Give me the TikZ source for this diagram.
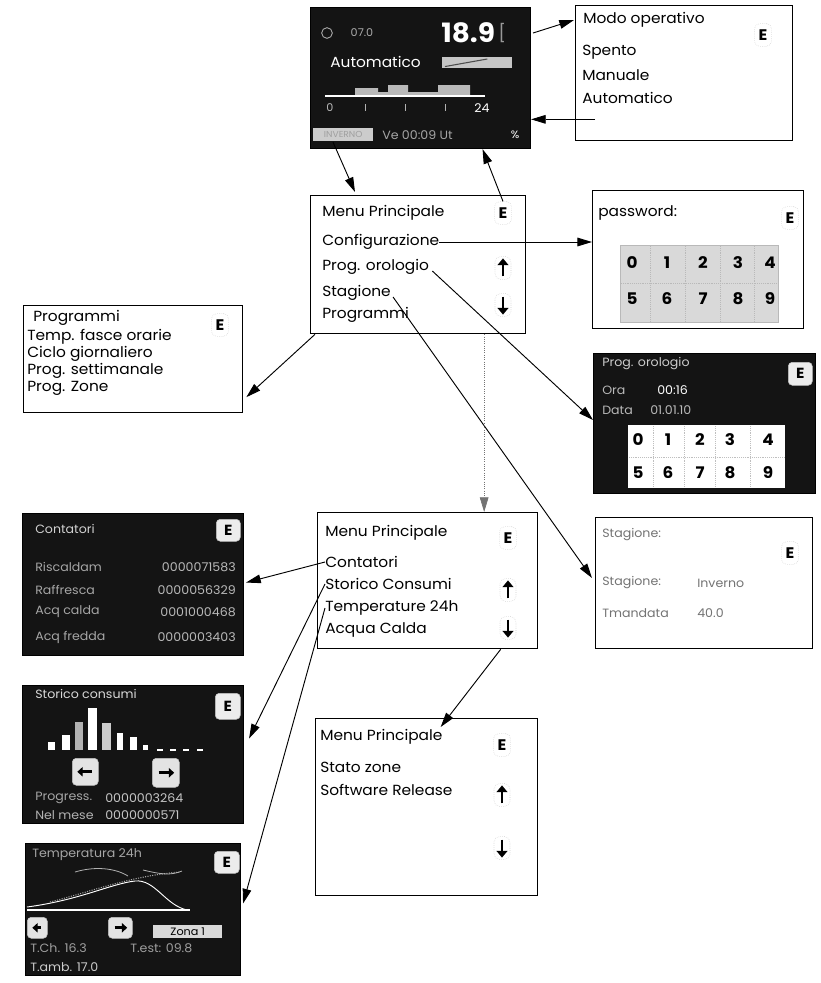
\documentclass[tikz,border=0pt]{standalone}
\usepackage{fontspec}
\setmainfont{Poppins}[FakeStretch=1.05]
\usetikzlibrary{arrows.meta,calc}
\begin{document}
\begin{tikzpicture}[x=0.75pt,y=-0.75pt,
  rect/.style 2 args={minimum width=#1*0.75pt, minimum height=#2*0.75pt},
  box/.style={draw=black, line width=1pt, fill=white, inner sep=0pt, anchor=north west},
  scr/.style={fill=black!92, draw=black, line width=0.8pt, inner sep=0pt, anchor=north west},
  txt/.style={anchor=west, inner sep=0pt, font=\fontsize{11}{12}\selectfont},
  stxt/.style={anchor=west, inner sep=0pt, font=\fontsize{9}{11}\selectfont},
  arr/.style={draw=black, line width=0.7pt, -{Triangle[length=11pt,width=6.5pt]}},
  ekey/.style={font=\fontsize{11.5}{12}\selectfont\bfseries, inner sep=0pt, draw=gray!40, densely dotted, rounded corners=4pt, minimum width=13pt, minimum height=17pt},
  ahalo/.style={inner sep=0pt, draw=gray!40, densely dotted, rounded corners=4pt, minimum width=12pt, minimum height=17pt},
  icoarr/.style={line width=2pt, -{Triangle[length=5pt,width=8pt]}, shorten <=2.5pt, shorten >=1.5pt},
  dkey/.style={fill=gray!15, draw=gray!50, rounded corners=3pt, inner sep=0pt, anchor=north west, font=\fontsize{11}{12}\selectfont\bfseries, text=black},
  dbtn/.style={fill=gray!22, draw=gray!50, rounded corners=3pt, inner sep=0pt, anchor=north west},
  btnarr/.style={line width=2.2pt, -{Triangle[length=4pt,width=7pt]}, shorten <=5pt, shorten >=4pt},
  digit/.style={font=\fontsize{12}{13}\selectfont\bfseries, inner sep=0pt}
]
\path[use as bounding box] (0,0) rectangle (821,983);

% ---------------- top display ----------------
\node[scr, rect={220}{141}] (disp) at (310,7) {};
\node[circle, draw=gray!55, line width=0.6pt, minimum size=8pt, inner sep=0pt] (dicon) at (327,33) {};
\node[font=\fontsize{8}{9}\selectfont, text=gray!65, inner sep=0pt] (dset) at (362,33) {07.0};
\node[font=\fontsize{20}{22}\selectfont\bfseries, text=white, anchor=west, inner sep=0pt] (dtemp) at (441,33) {18.9};
\node[text=gray!80, font=\fontsize{13}{14}\selectfont, anchor=west, inner sep=0pt] (dunit) at (dtemp.east) {\,[};
\node[txt, text=white] (dmode) at (330,62) {Automatico};
\node[fill=gray!45, rect={70}{11}, anchor=north west, inner sep=0pt] (dbar) at (442,57) {};
\draw[black!70, line width=0.8pt] ($(dbar.south west)+(3,-2)$) -- ($(dbar.north)+(10,2)$);
\fill[gray!55] (355,96) -- (355,88) -- (378,88) -- (378,92) -- (388,92) -- (388,85) -- (408,85) -- (408,92) -- (438,92) -- (438,85) -- (470,85) -- (470,96) -- cycle;
\draw[white, line width=0.8pt] (325,96) -- (485,96);
\node[font=\fontsize{8}{9}\selectfont, text=gray!55, inner sep=0pt] (dzero) at (330,108) {0};
\foreach \tx in {365,405,445} \draw[gray!60, line width=0.6pt] (\tx,104) -- (\tx,111);
\node[font=\fontsize{9}{10}\selectfont, text=white, inner sep=0pt] (d24) at (482,108) {24};
\node[fill=gray!40, rect={60}{13}, anchor=north west, inner sep=0pt] (dseason) at (313,128) {};
\node[text=gray!75, font=\fontsize{6.5}{7}\selectfont, inner sep=0pt] (dseasont) at (dseason) {INVERNO};
\node[stxt, text=gray!70] (ddate) at (382,135) {Ve 00:09 Ut};
\node[text=white, font=\fontsize{8}{9}\selectfont, inner sep=0pt] (dsym) at (515,135) {\%};

% ---------------- Modo operativo ----------------
\node[box, rect={217}{135}] (modo) at (575,5) {};
\node[txt] (modo0) at (583,20) {Modo operativo};
\node[txt] (modo1) at (582,52) {Spento};
\node[txt] (modo2) at (582,75) {Manuale};
\node[txt] (modo3) at (582,98) {Automatico};
\node[ekey] (modoE) at (763,35) {E};

% ---------------- Menu Principale 1 ----------------
\node[box, rect={215}{138}] (m1) at (310,195) {};
\node[txt] (m1t) at (322,213) {Menu Principale};
\node[txt] (cfg) at (322,242) {Configurazione};
\node[txt] (orol) at (322,267) {Prog. orologio};
\node[txt] (stg) at (322,293) {Stagione};
\node[txt] (prg) at (322,315) {Programmi};
\node[ekey] (m1E) at (503,213) {E};
\node[ahalo] (m1up) at (503,268) {};
\node[ahalo] (m1dn) at (503,305) {};
\draw[icoarr] (m1up.south) -- (m1up.north);
\draw[icoarr] (m1dn.north) -- (m1dn.south);

% ---------------- password ----------------
\node[box, rect={211}{138}] (pw) at (592,190) {};
\node[txt] (pwt) at (598,213) {password:};
\node[ekey] (pwE) at (790,218) {E};
\node[fill=gray!30, draw=gray!55, rect={158}{77}, anchor=north west, inner sep=0pt] (pwkeys) at (620,245) {};
\foreach \gx in {650,685,720,754} \draw[gray!55, densely dotted] (\gx,246) -- (\gx,321);
\draw[gray!55, densely dotted] (621,283) -- (777,283);
\foreach \d/\gx in {0/632,1/667,2/703,3/738,4/770} \node[digit] (pk\d) at (\gx,263) {\d};
\foreach \d/\gx in {5/632,6/667,7/703,8/738,9/770} \node[digit] (pk\d) at (\gx,299) {\d};

% ---------------- Programmi ----------------
\node[box, rect={219}{107}] (prog) at (23,305) {};
\node[txt] (progt) at (33,318) {Programmi};
\node[txt] (prog1) at (27,337) {Temp. fasce orarie};
\node[txt] (prog2) at (27,354) {Ciclo giornaliero};
\node[txt] (prog3) at (27,371) {Prog. settimanale};
\node[txt] (prog4) at (27,388) {Prog. Zone};
\node[ekey] (progE) at (220,325) {E};

% ---------------- clock screen ----------------
\node[scr, rect={222}{140}] (clk) at (593,353) {};
\node[dkey, rect={24}{23}] (clkE) at (788,362) {E};
\node[stxt, text=gray!40] (clkt) at (602,364) {Prog. orologio};
\node[stxt, text=gray!55] (clko) at (602,390) {Ora};
\node[stxt, text=white] (clkov) at (657,390) {00:16};
\node[stxt, text=gray!55] (clkd) at (602,410) {Data};
\node[stxt, text=gray!55] (clkdv) at (650,410) {01.01.10};
\node[fill=white, rect={157}{63}, anchor=north west, inner sep=0pt] (clkkeys) at (628,425) {};
\foreach \gx in {653,684,715,750} \draw[gray!50, densely dotted] (\gx,426) -- (\gx,487);
\draw[gray!50, densely dotted] (629,457) -- (784,457);
\foreach \d/\gx in {0/638,1/668,2/700,3/730,4/768} \node[digit] (ck\d) at (\gx,440) {\d};
\foreach \d/\gx in {5/638,6/668,7/700,8/730,9/768} \node[digit] (ck\d) at (\gx,473) {\d};

% ---------------- Stagione ----------------
\node[box, rect={217}{131}] (stag) at (595,517) {};
\node[stxt, text=black!55] (stagt) at (602,535) {Stagione:};
\node[ekey] (stagE) at (790,553) {E};
\node[stxt, text=black!55] (stag1) at (602,583) {Stagione:};
\node[stxt, text=black!55] (stag1v) at (697,583) {Inverno};
\node[stxt, text=black!55] (stag2) at (602,613) {Tmandata};
\node[stxt, text=black!55] (stag2v) at (697,613) {40.0};

% ---------------- Menu Principale 2 ----------------
\node[box, rect={220}{136}] (m2) at (317,512) {};
\node[txt] (m2t) at (325,533) {Menu Principale};
\node[txt] (cnt) at (325,562) {Contatori};
\node[txt] (sto) at (325,584) {Storico Consumi};
\node[txt] (t24) at (325,608) {Temperature 24h};
\node[txt] (acq) at (325,630) {Acqua Calda};
\node[ekey] (m2E) at (508,538) {E};
\node[ahalo] (m2up) at (508,590) {};
\node[ahalo] (m2dn) at (508,628) {};
\draw[icoarr] (m2up.south) -- (m2up.north);
\draw[icoarr] (m2dn.north) -- (m2dn.south);

% ---------------- Menu Principale 3 ----------------
\node[box, rect={222}{177}] (m3) at (315,718) {};
\node[txt] (m3t) at (320,737) {Menu Principale};
\node[txt] (m3a) at (320,767) {Stato zone};
\node[txt] (m3b) at (320,790) {Software Release};
\node[ekey] (m3E) at (502,745) {E};
\node[ahalo] (m3up) at (502,795) {};
\node[ahalo] (m3dn) at (502,848) {};
\draw[icoarr] (m3up.south) -- (m3up.north);
\draw[icoarr] (m3dn.north) -- (m3dn.south);

% ---------------- Contatori screen ----------------
\node[scr, rect={221}{142}] (cont) at (22,513) {};
\node[dkey, rect={24}{22}] (contE) at (216,519) {E};
\node[stxt, text=gray!35] (contt) at (35,529) {Contatori};
\node[stxt, text=gray!70] (c1) at (35,567) {Riscaldam};
\node[stxt, text=gray!70] (c2) at (35,590) {Raffresca};
\node[stxt, text=gray!70] (c3) at (35,612) {Acq calda};
\node[stxt, text=gray!70] (c4) at (35,637) {Acq fredda};
\node[stxt, text=gray!55, anchor=east] (c1v) at (236,567) {0000071583};
\node[stxt, text=gray!55, anchor=east] (c2v) at (236,590) {0000056329};
\node[stxt, text=gray!55, anchor=east] (c3v) at (236,612) {0001000468};
\node[stxt, text=gray!55, anchor=east] (c4v) at (236,637) {0000003403};

% ---------------- bar chart screen ----------------
\node[scr, rect={221}{138}] (bars) at (22,685) {};
\node[dkey, rect={25}{26}] (barsE) at (215,693) {E};
\node[stxt, text=gray!30] (barst) at (35,694) {Storico consumi};
\foreach \xa/\xb/\yt/\cl in {48/55/742/white,62/70/735/white,75/83/722/gray!60,88/97/708/white,102/111/723/gray!40,117/123/733/white,130/137/737/white,143/148/745/white}
  \fill[\cl] (\xa,\yt) rectangle (\xb,750);
\foreach \xa in {157,170,183,197} \draw[white, line width=1pt] (\xa,750) -- (\xa+6,750);
\node[dbtn, rect={26}{27}] (bl) at (72,758) {};
\node[dbtn, rect={27}{29}] (br) at (152,758) {};
\draw[btnarr] (bl.east) -- (bl.west);
\draw[btnarr] (br.west) -- (br.east);
\node[stxt, text=gray!70] (bp) at (35,798) {Progress.};
\node[stxt, text=gray!45] (bpv) at (105,798) {0000003264};
\node[stxt, text=gray!60] (bm) at (35,815) {Nel mese};
\node[stxt, text=gray!45] (bmv) at (105,815) {0000000571};

% ---------------- temperature screen ----------------
\node[scr, rect={215}{132}] (temp) at (25,843) {};
\node[dkey, rect={25}{22}] (tempE) at (214,851) {E};
\node[stxt, text=gray!70] (tempt) at (32,855) {Temperatura 24h};
\draw[white, line width=0.8pt] (27,910) -- (190,910);
\draw[white, line width=0.7pt] (27,907) .. controls (80,900) and (110,884) .. (135,881) .. controls (155,879) and (165,905) .. (187,910);
\draw[gray!70, densely dotted, line width=0.8pt] (50,902) .. controls (90,892) and (130,876) .. (180,872);
\draw[gray!60, line width=0.6pt] (75,872) .. controls (95,866) and (115,868) .. (128,876);
\draw[gray!60, line width=0.6pt] (143,870) .. controls (160,874) and (170,876) .. (182,871);
\node[dbtn, rect={20}{21}] (tl) at (27,917) {};
\node[dbtn, rect={24}{21}] (tr) at (108,917) {};
\draw[btnarr] (tl.east) -- (tl.west);
\draw[btnarr] (tr.west) -- (tr.east);
\node[fill=gray!30, rect={69}{13}, anchor=north west, inner sep=0pt, font=\fontsize{8}{9}\selectfont] (zona) at (153,925) {Zona 1};
\node[stxt, text=gray!75] (tch) at (30,948) {T.Ch. 16.3};
\node[stxt, text=gray!75] (tes) at (130,948) {T.est: 09.8};
\node[stxt, text=gray!40] (tam) at (30,967) {T.amb. 17.0};

% ---------------- connectors ----------------
\draw[arr] ($(disp.north east)+(2,26)$) -- ($(modo.north west)+(-1,15)$);
\coordinate (modoin) at ($(modo.south west)+(20,-22)$);
\draw[arr] (modoin) -- (modoin -| disp.east);
\draw[arr] ($(disp.south west)+(23,-7)$) -- ($(m1.north west)+(45,-3)$);
\draw[arr] (m1E.north) -- ($(disp.south)+(62,0)$);
\draw[arr] (cfg.east) -- (cfg.east -| pw.west);
\draw[arr] ($(orol.east)+(3,4)$) -- ($(clk.north west)+(0,67)$);
\draw[arr] ($(stg.east)+(2,4)$) -- ($(stag.north west)+(-3,61)$);
\coordinate (m1b) at ($(m1.south)+(66,0)$);
\draw[arr, draw=black!55, densely dotted, line width=0.5pt] (m1b) -- (m1b |- m2.north);
\draw[arr] ($(m1.south west)+(5,0)$) -- ($(prog.east)+(3,38)$);
\draw[arr] ($(m2.south)+(73,0)$) -- ($(m3.north)+(14,9)$);
\draw[arr] (cnt.west) -- ($(cont.east)+(2,-2)$);
\draw[arr] (sto.west) -- ($(bars.east)+(5,-16)$);
\draw[arr] (t24.west) -- ($(temp.east)+(2,-6)$);
\end{tikzpicture}
\end{document}
